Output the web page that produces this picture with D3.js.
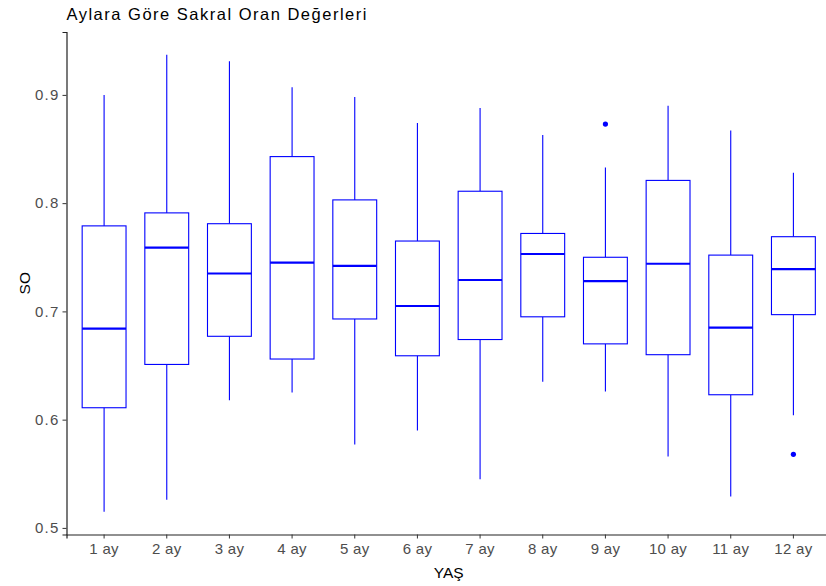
<!DOCTYPE html>
<html>
<head>
<meta charset="utf-8">
<script src="https://cdn.jsdelivr.net/npm/d3@7"></script>
<style>
  html, body { margin: 0; padding: 0; background: #fff; }
  svg { display: block; font-family: "Liberation Sans", Arial, sans-serif; }
</style>
</head>
<body>
<svg id="chart" width="826" height="586"></svg>
<script>
// Monthly sacral ratio (SO) summaries: whiskers, quartiles, median
const months      = ["1 ay","2 ay","3 ay","4 ay","5 ay","6 ay","7 ay","8 ay","9 ay","10 ay","11 ay","12 ay"];
const whiskerLow  = [0.515, 0.526, 0.618, 0.625, 0.577, 0.590, 0.545, 0.635, 0.626, 0.566, 0.529, 0.604];
const q1          = [0.611, 0.651, 0.677, 0.656, 0.693, 0.659, 0.674, 0.695, 0.670, 0.660, 0.623, 0.697];
const medians     = [0.684, 0.759, 0.735, 0.745, 0.742, 0.705, 0.729, 0.753, 0.728, 0.744, 0.685, 0.739];
const q3          = [0.779, 0.791, 0.781, 0.843, 0.803, 0.765, 0.811, 0.772, 0.750, 0.821, 0.752, 0.769];
const whiskerHigh = [0.900, 0.937, 0.931, 0.907, 0.898, 0.874, 0.888, 0.863, 0.833, 0.890, 0.867, 0.828];
const outlierMonth = ["9 ay", "12 ay"];
const outlierValue = [0.873, 0.568];
const yTicks = [0.5, 0.6, 0.7, 0.8, 0.9];

const boxes = months.map((m, i) => ({
  month: m, lo: whiskerLow[i], q1: q1[i], med: medians[i], q3: q3[i], hi: whiskerHigh[i]
}));
const outliers = outlierMonth.map((m, i) => ({ month: m, value: outlierValue[i] }));

const svg = d3.select("#chart");
const plotLeft = 66.5, plotTop = 32, plotBottom = 534.5, plotRight = 831;
const blue = "#0000FF";

// y domain: data extent padded by 5% on both sides
const allVals = whiskerLow.concat(whiskerHigh, outlierValue);
const [mn, mx] = d3.extent(allVals);
const pad = (mx - mn) * 0.05;
const y = d3.scaleLinear().domain([mn - pad, mx + pad]).range([plotBottom, plotTop]);

const x = d3.scaleBand().domain(months).range([plotLeft, plotRight])
  .paddingInner(0).paddingOuter(0.1);
const boxW = x.bandwidth() * 0.7;
const cx = m => x(m) + x.bandwidth() / 2;

const g = svg.append("g");

// whiskers
g.selectAll("line.wl").data(boxes).enter().append("line")
  .attr("x1", d => cx(d.month)).attr("x2", d => cx(d.month))
  .attr("y1", d => y(d.lo)).attr("y2", d => y(d.q1))
  .attr("stroke", blue).attr("stroke-width", 1.1);
g.selectAll("line.wh").data(boxes).enter().append("line")
  .attr("x1", d => cx(d.month)).attr("x2", d => cx(d.month))
  .attr("y1", d => y(d.q3)).attr("y2", d => y(d.hi))
  .attr("stroke", blue).attr("stroke-width", 1.1);

// boxes
g.selectAll("rect.box").data(boxes).enter().append("rect")
  .attr("x", d => cx(d.month) - boxW / 2)
  .attr("y", d => y(d.q3))
  .attr("width", boxW)
  .attr("height", d => y(d.q1) - y(d.q3))
  .attr("fill", "#fff").attr("stroke", blue).attr("stroke-width", 1.1);

// medians
g.selectAll("line.med").data(boxes).enter().append("line")
  .attr("x1", d => cx(d.month) - boxW / 2).attr("x2", d => cx(d.month) + boxW / 2)
  .attr("y1", d => y(d.med)).attr("y2", d => y(d.med))
  .attr("stroke", blue).attr("stroke-width", 2.2);

// outliers
g.selectAll("circle.out").data(outliers).enter().append("circle")
  .attr("cx", d => cx(d.month)).attr("cy", d => y(d.value))
  .attr("r", 2.6).attr("fill", blue);

// axes
const yAxis = d3.axisLeft(y).tickValues(yTicks).tickFormat(d3.format(".1f")).tickSizeOuter(0).tickSize(4).tickPadding(3);
const gy = svg.append("g").attr("transform", `translate(${plotLeft},0)`).call(yAxis);
gy.select(".domain").attr("stroke", "#222").attr("stroke-width", 1.2);
gy.selectAll(".tick line").attr("stroke", "#333");
gy.selectAll(".tick text").attr("fill", "#4D4D4D").attr("font-size", null).attr("font-family", null)
  .style("font-size", "15px").style("letter-spacing", "1.2px");

const xAxis = d3.axisBottom(x).tickSizeOuter(0).tickSize(4).tickPadding(5);
const gx = svg.append("g").attr("transform", `translate(0,${plotBottom})`).call(xAxis);
gx.select(".domain").attr("stroke", "#222").attr("stroke-width", 1.2);
gx.selectAll(".tick line").attr("stroke", "#333");
gx.selectAll(".tick text").attr("fill", "#4D4D4D").attr("font-size", null).attr("font-family", null)
  .style("font-size", "15px").style("letter-spacing", "0.3px");

// titles
svg.append("text").attr("x", plotLeft).attr("y", 19.5)
  .style("font-size", "16.5px").style("letter-spacing", "1.5px").attr("fill", "#000")
  .text("Aylara Göre Sakral Oran Değerleri");

svg.append("text").attr("x", (plotLeft + plotRight) / 2).attr("y", 578)
  .attr("text-anchor", "middle").style("font-size", "15.5px").attr("fill", "#000")
  .text("YAŞ");

svg.append("text")
  .attr("transform", `translate(30,${(plotTop + plotBottom) / 2}) rotate(-90)`)
  .attr("text-anchor", "middle").style("font-size", "15.5px").attr("fill", "#000")
  .text("SO");
</script>
</body>
</html>
